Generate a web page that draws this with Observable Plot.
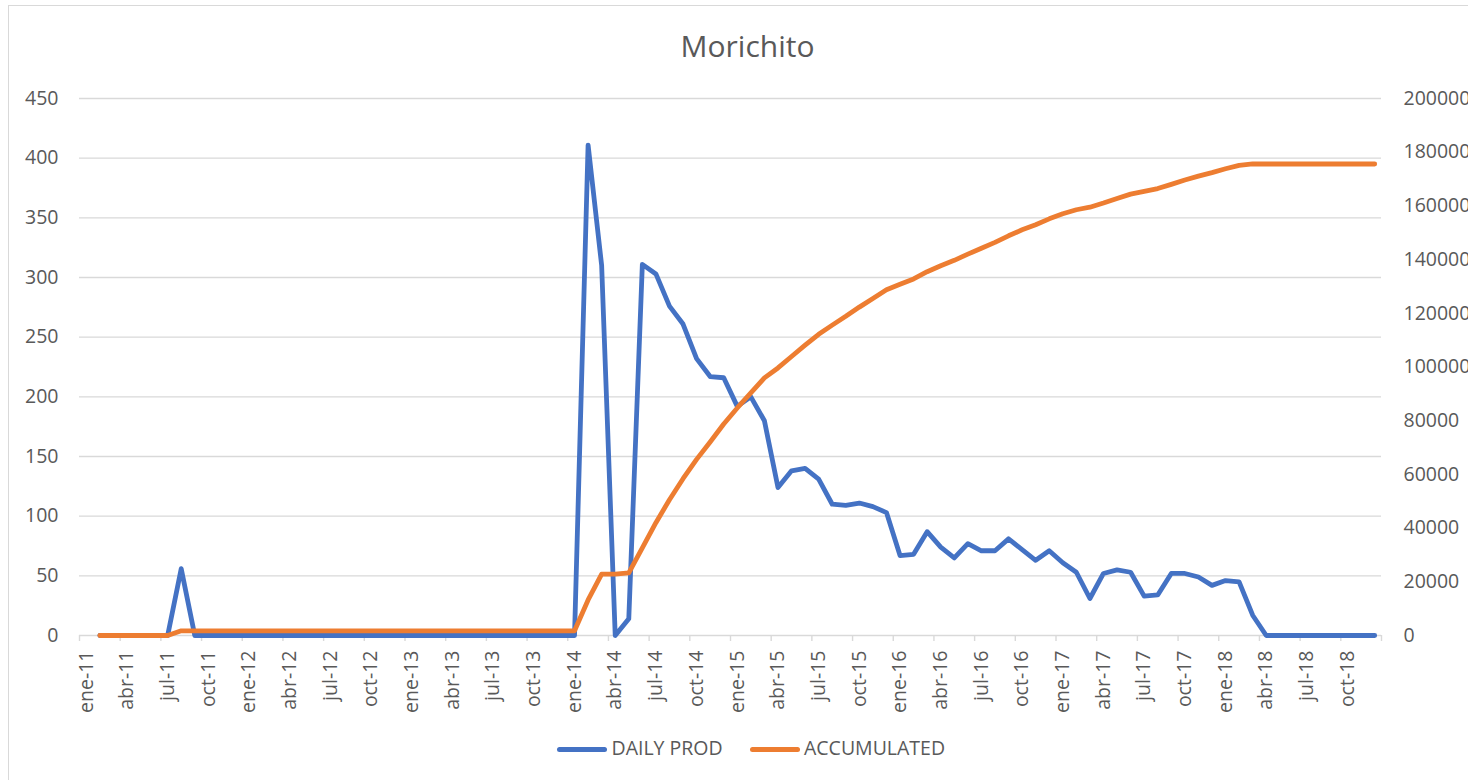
<!DOCTYPE html>
<html>
<head>
<meta charset="utf-8">
<script src="https://cdn.jsdelivr.net/npm/d3@7"></script>
<script src="https://cdn.jsdelivr.net/npm/@observablehq/plot@0.6"></script>
<style>
  html, body { margin: 0; padding: 0; background: #fff; overflow: hidden; }
  #wrap { position: relative; width: 1468px; height: 780px; overflow: hidden; font-family: "Open Sans", sans-serif; color: #595959; }
  #frame { position: absolute; left: 8px; top: 5px; width: 1600px; height: 900px; border: 1.5px solid #d9d9d9; box-sizing: border-box; }
  #chart { position: absolute; left: 0; top: 0; }
  #title { position: absolute; left: 747.5px; top: 31px; transform: translateX(-50%); font-size: 30px; line-height: 30px; white-space: nowrap; }
  .sw { position: absolute; height: 5px; width: 50px; border-radius: 2.5px; top: 746.5px; }
  .lt { position: absolute; top: 738px; font-size: 19.5px; line-height: 20px; white-space: nowrap; }
</style>
</head>
<body>
<div id="wrap">
  <div id="frame"></div>
  <div id="chart"></div>
  <div id="title">Morichito</div>
  <div class="sw" style="left:557px;background:#4472C4"></div>
  <div class="lt" style="left:611.5px">DAILY PROD</div>
  <div class="sw" style="left:750px;background:#ED7D31"></div>
  <div class="lt" style="left:804px">ACCUMULATED</div>
</div>
<script>
const monthNames = ["ene","feb","mar","abr","may","jun","jul","ago","sep","oct","nov","dic"];
const years = ["11","12","13","14","15","16","17","18"];
const categories = years.flatMap(y => monthNames.map(m => `${m}-${y}`));

const daily = [
  null,0,0,0,0,0,0,56,
  0,0,0,0,0,0,0,0,0,0,0,0,0,0,0,0,0,0,0,0,0,0,0,0,0,0,0,0,0,
  411,310,0,14,311,303,276,261,232,217,216,
  192,200,180,124,138,140,131,110,109,111,108,103,
  67,68,87,74,65,77,71,71,81,72,63,71,
  61,53,31,52,55,53,33,34,52,52,49,42,
  46,45,17,0,0,0,0,0,0,0,0,0
];

const accumulated = [
  null,0,0,0,0,0,0,
  1736,1736,1736,1736,1736,1736,1736,1736,1736,1736,
  1736,1736,1736,1736,1736,1736,1736,1736,1736,1736,
  1736,1736,1736,1736,1736,1736,1736,1736,1736,1736,
  13244,22854,22854,23288,32618,42011,50567,58397,65589,72099,78795,
  84747,90347,95927,99647,103925,108125,112186,115596,118866,122307,125547,128740,
  130817,132789,135486,137706,139721,142031,144232,146433,148863,151095,152985,155186,
  157077,158561,159522,161082,162787,164377,165400,166454,168014,169626,171096,172398,
  173824,175084,175611,175611,175611,175611,175611,175611,175611,175611,175611,175611
];

const leftTicks = [0,50,100,150,200,250,300,350,400,450];
const rightTicks = [0,20000,40000,60000,80000,100000,120000,140000,160000,180000,200000];
const leftMax = 450, rightMax = 200000;

const rows = categories.map((c, i) => ({i, c, daily: daily[i], acc: accumulated[i]}));
const labelIdx = categories.map((c, i) => i).filter(i => i % 3 === 0);
const boundaries = d3.range(0, categories.length + 1, 3);
const toLeft = v => v * leftMax / rightMax;

const chart = Plot.plot({
  width: 1468,
  height: 780,
  marginLeft: 79,
  marginRight: 87,
  marginTop: 98,
  marginBottom: 145,
  style: {fontFamily: "'Open Sans', sans-serif", fontSize: "19.5px", color: "#595959", background: "transparent", overflow: "visible"},
  x: {type: "linear", domain: [0, categories.length], axis: null},
  y: {domain: [0, leftMax], axis: null},
  marks: [
    Plot.ruleY(leftTicks, {stroke: "#d9d9d9", strokeWidth: 1.4}),
    Plot.axisX(boundaries, {tickSize: 6, tickFormat: () => "", stroke: "#d9d9d9", strokeWidth: 1.4, label: null}),
    Plot.axisX(labelIdx.map(i => i + 0.5), {tickSize: 0, tickPadding: 15, tickRotate: -90, tickFormat: d => categories[Math.round(d - 0.5)], fill: "#595959", label: null}),
    Plot.axisY(leftTicks, {anchor: "left", tickSize: 0, tickPadding: 21, fill: "#595959", label: null}),
    Plot.axisY(rightTicks.map(toLeft), {anchor: "right", tickSize: 0, tickPadding: 22, tickFormat: (d, k) => String(rightTicks[k]), fill: "#595959", label: null}),
    Plot.line(rows, {x: d => d.i + 0.5, y: "daily", stroke: "#4472C4", strokeWidth: 4.8, strokeLinejoin: "round", strokeLinecap: "round"}),
    Plot.line(rows, {x: d => d.i + 0.5, y: d => d.acc == null ? null : toLeft(d.acc), stroke: "#ED7D31", strokeWidth: 4.8, strokeLinejoin: "round", strokeLinecap: "round"})
  ]
});
document.getElementById("chart").appendChild(chart);
</script>
</body>
</html>
